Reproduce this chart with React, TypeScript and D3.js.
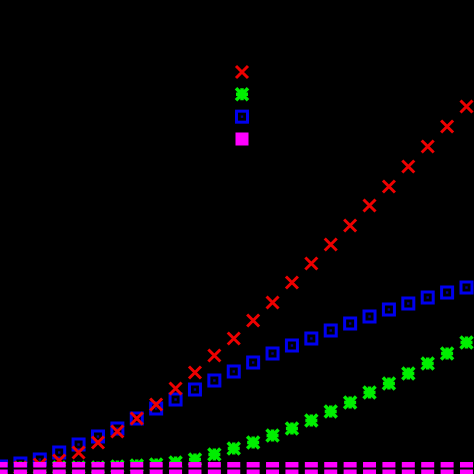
import React, { useRef, useEffect } from 'react';
import * as d3 from 'd3';

// x positions are just the sample index 0..24
const steps = d3.range(25);

// values (1 unit ~ 1px above the x axis)
const redValues = [0, 1, 4, 8, 16, 26, 37, 50, 64, 80, 96, 113, 130, 148, 166, 186, 205, 224, 243, 263, 282, 302, 322, 342, 362];
const greenValues = [1, 1, 1, 1, 1, 1, 2, 3, 4, 6, 9, 14, 20, 26, 33, 40, 48, 57, 66, 76, 85, 95, 105, 115, 126];
const blueValues = [2, 5, 9, 16, 24, 32, 40, 50, 60, 69, 79, 88, 97, 106, 115, 123, 130, 138, 145, 152, 159, 165, 171, 176, 181];
const magentaValues = [0, 0, 0, 0, 0, 0, 0, 0, 0, 0, 0, 0, 0, 0, 0, 0, 0, 0, 0, 0, 0, 0, 0, 0, 0];

type Kind = 'cross' | 'star' | 'box' | 'filled';

const series: { name: string; values: number[]; color: string; kind: Kind }[] = [
  { name: 'green', values: greenValues, color: '#00ee00', kind: 'star' },
  { name: 'blue', values: blueValues, color: '#0000ee', kind: 'box' },
  { name: 'red', values: redValues, color: '#ee0000', kind: 'cross' },
  { name: 'magenta', values: magentaValues, color: '#ff00ff', kind: 'filled' },
];
const legendOrder: Kind[] = ['cross', 'star', 'box', 'filled'];

const App: React.FC = () => {
  const svgRef = useRef<SVGSVGElement>(null);
  const width = 474;
  const height = 474;

  useEffect(() => {
    if (!svgRef.current) return;
    const svg = d3.select(svgRef.current);
    svg.selectAll('*').remove();

    svg.append('rect').attr('width', width).attr('height', height).attr('fill', '#000');

    const xScale = d3.scaleLinear().domain([0, 24]).range([1, 466.5]);
    const yScale = d3.scaleLinear().domain([0, 400]).range([468.5, 68.5]);

    const drawMarker = (g: d3.Selection<SVGGElement, unknown, null, undefined>, kind: Kind, color: string) => {
      const s = 6;
      if (kind === 'cross') {
        g.append('path')
          .attr('d', `M${-s},${-s}L${s},${s}M${-s},${s}L${s},${-s}`)
          .attr('stroke', color)
          .attr('stroke-width', 3)
          .attr('fill', 'none');
      } else if (kind === 'star') {
        g.append('path')
          .attr('d', `M${-s},${-s}L${s},${s}M${-s},${s}L${s},${-s}M${-s},0L${s},0M0,${-s}L0,${s}`)
          .attr('stroke', color)
          .attr('stroke-width', 3.5)
          .attr('fill', 'none');
      } else if (kind === 'box') {
        g.append('rect')
          .attr('x', -5.5)
          .attr('y', -5.5)
          .attr('width', 11)
          .attr('height', 11)
          .attr('stroke', color)
          .attr('stroke-width', 3)
          .attr('fill', 'none');
        g.append('rect')
          .attr('x', -1.2)
          .attr('y', -1.2)
          .attr('width', 2.4)
          .attr('height', 2.4)
          .attr('fill', '#000099');
      } else {
        g.append('rect')
          .attr('x', -6.5)
          .attr('y', -6.5)
          .attr('width', 13)
          .attr('height', 13)
          .attr('fill', color);
      }
    };

    series.forEach((s) => {
      steps.forEach((i) => {
        const g = svg
          .append('g')
          .attr('class', `pt-${s.name}`)
          .attr('transform', `translate(${xScale(i)},${yScale(s.values[i])})`);
        drawMarker(g, s.kind, s.color);
      });
    });

    // x axis (drawn in black, cuts through the bottom markers)
    svg
      .append('line')
      .attr('x1', 0)
      .attr('x2', width)
      .attr('y1', yScale(0))
      .attr('y2', yScale(0))
      .attr('stroke', '#000')
      .attr('stroke-width', 2);

    // key: markers only, labels are black on black
    const legendY = d3.scaleLinear().domain([0, 3]).range([72, 139]);
    legendOrder.forEach((kind, i) => {
      const s = series.find((d) => d.kind === kind)!;
      const g = svg.append('g').attr('transform', `translate(242,${legendY(i)})`);
      drawMarker(g, kind, s.color);
    });
  }, []);

  return (
    <svg
      ref={svgRef}
      width={width}
      height={height}
      style={{ position: 'fixed', left: 0, top: 0, display: 'block' }}
    />
  );
};

export default App;
